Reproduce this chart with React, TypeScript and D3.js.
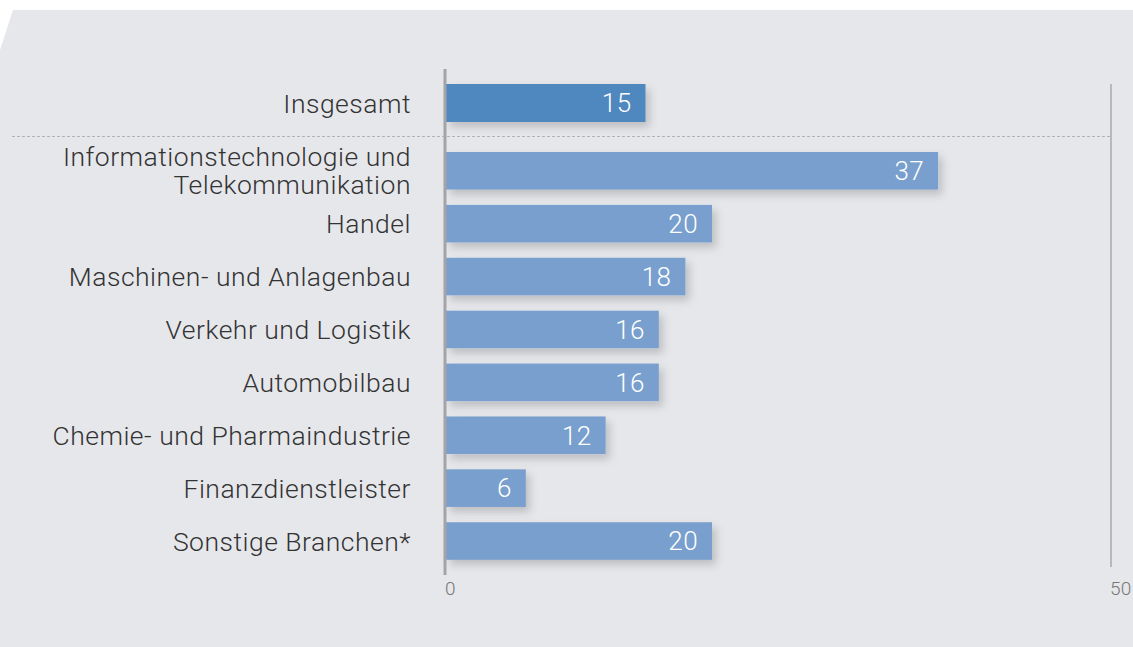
import React from 'react';
import * as d3 from 'd3';

const totalLabel = 'Insgesamt';
const totalValue = 15;

const branches = [
  'Informationstechnologie und|Telekommunikation',
  'Handel',
  'Maschinen- und Anlagenbau',
  'Verkehr und Logistik',
  'Automobilbau',
  'Chemie- und Pharmaindustrie',
  'Finanzdienstleister',
  'Sonstige Branchen*',
];
const branchValues = [37, 20, 18, 16, 16, 12, 6, 20];
const axisTicks = [0, 50];

const W = 1133;
const H = 647;
const FONT = 'Roboto, "Helvetica Neue", Arial, sans-serif';

const App = () => {
  const x = d3.scaleLinear().domain([0, 50]).range([446, 1111]);

  const yTotal = d3.scaleBand().domain([totalLabel]).range([84, 122]);
  const y = d3.scaleBand()
    .domain(branches)
    .range([152, 559.8])
    .paddingInner(0.29)
    .paddingOuter(0);

  const bg = d3.line()([[13, 10], [W, 10], [W, H], [0, H], [0, 50]]) + 'Z';

  const rows = [
    { label: totalLabel, value: totalValue, top: yTotal(totalLabel), h: yTotal.bandwidth(), fill: '#4f87bf' },
    ...branches.map((b, i) => ({ label: b, value: branchValues[i], top: y(b), h: y.bandwidth(), fill: '#789fcd' })),
  ];

  return (
    <svg width={W} height={H} style={{ position: 'fixed', top: 0, left: 0 }} fontFamily={FONT}>
      <defs>
        <filter id="shadow" x="-10%" y="-40%" width="130%" height="200%">
          <feDropShadow dx="4" dy="5" stdDeviation="4" floodColor="#000" floodOpacity="0.18" />
        </filter>
      </defs>
      <rect width={W} height={H} fill="#fff" />
      <path d={bg} fill="#e6e7eb" />

      <line x1={x(50)} x2={x(50)} y1={84} y2={567} stroke="#a9aaad" strokeWidth={1.5} />
      <line x1={12} x2={x(50)} y1={136.5} y2={136.5} stroke="#b3b4b7" strokeWidth={1} strokeDasharray="3,2" />

      {rows.map(r => {
        const lines = r.label.split('|');
        const lh = 28;
        const c = r.top + r.h / 2 - ((lines.length - 1) * lh) / 2;
        return (
          <g key={r.label}>
            <rect x={x(0)} y={r.top} width={x(r.value) - x(0)} height={r.h} fill={r.fill} filter="url(#shadow)" />
            <text x={x(r.value) - 14} y={r.top + r.h / 2} dy="0.36em" textAnchor="end" fill="#fff" fontSize={26} fontWeight={300} letterSpacing={0.4}>
              {r.value}
            </text>
            <text x={411} y={c} textAnchor="end" fill="#333" fontSize={26.5} fontWeight={300} letterSpacing={0.5}>
              {lines.map((l, k) => (
                <tspan key={k} x={411} y={c + k * lh} dy="0.36em">{l}</tspan>
              ))}
            </text>
          </g>
        );
      })}

      <line x1={445} x2={445} y1={69} y2={575} stroke="#a3a4a7" strokeWidth={3} />

      {axisTicks.map(t => (
        <text key={t} x={x(t) - 1} y={595} fill="#777" fontSize={19} fontWeight={300} letterSpacing={0.3}>
          {t}
        </text>
      ))}
    </svg>
  );
};

export default App;
